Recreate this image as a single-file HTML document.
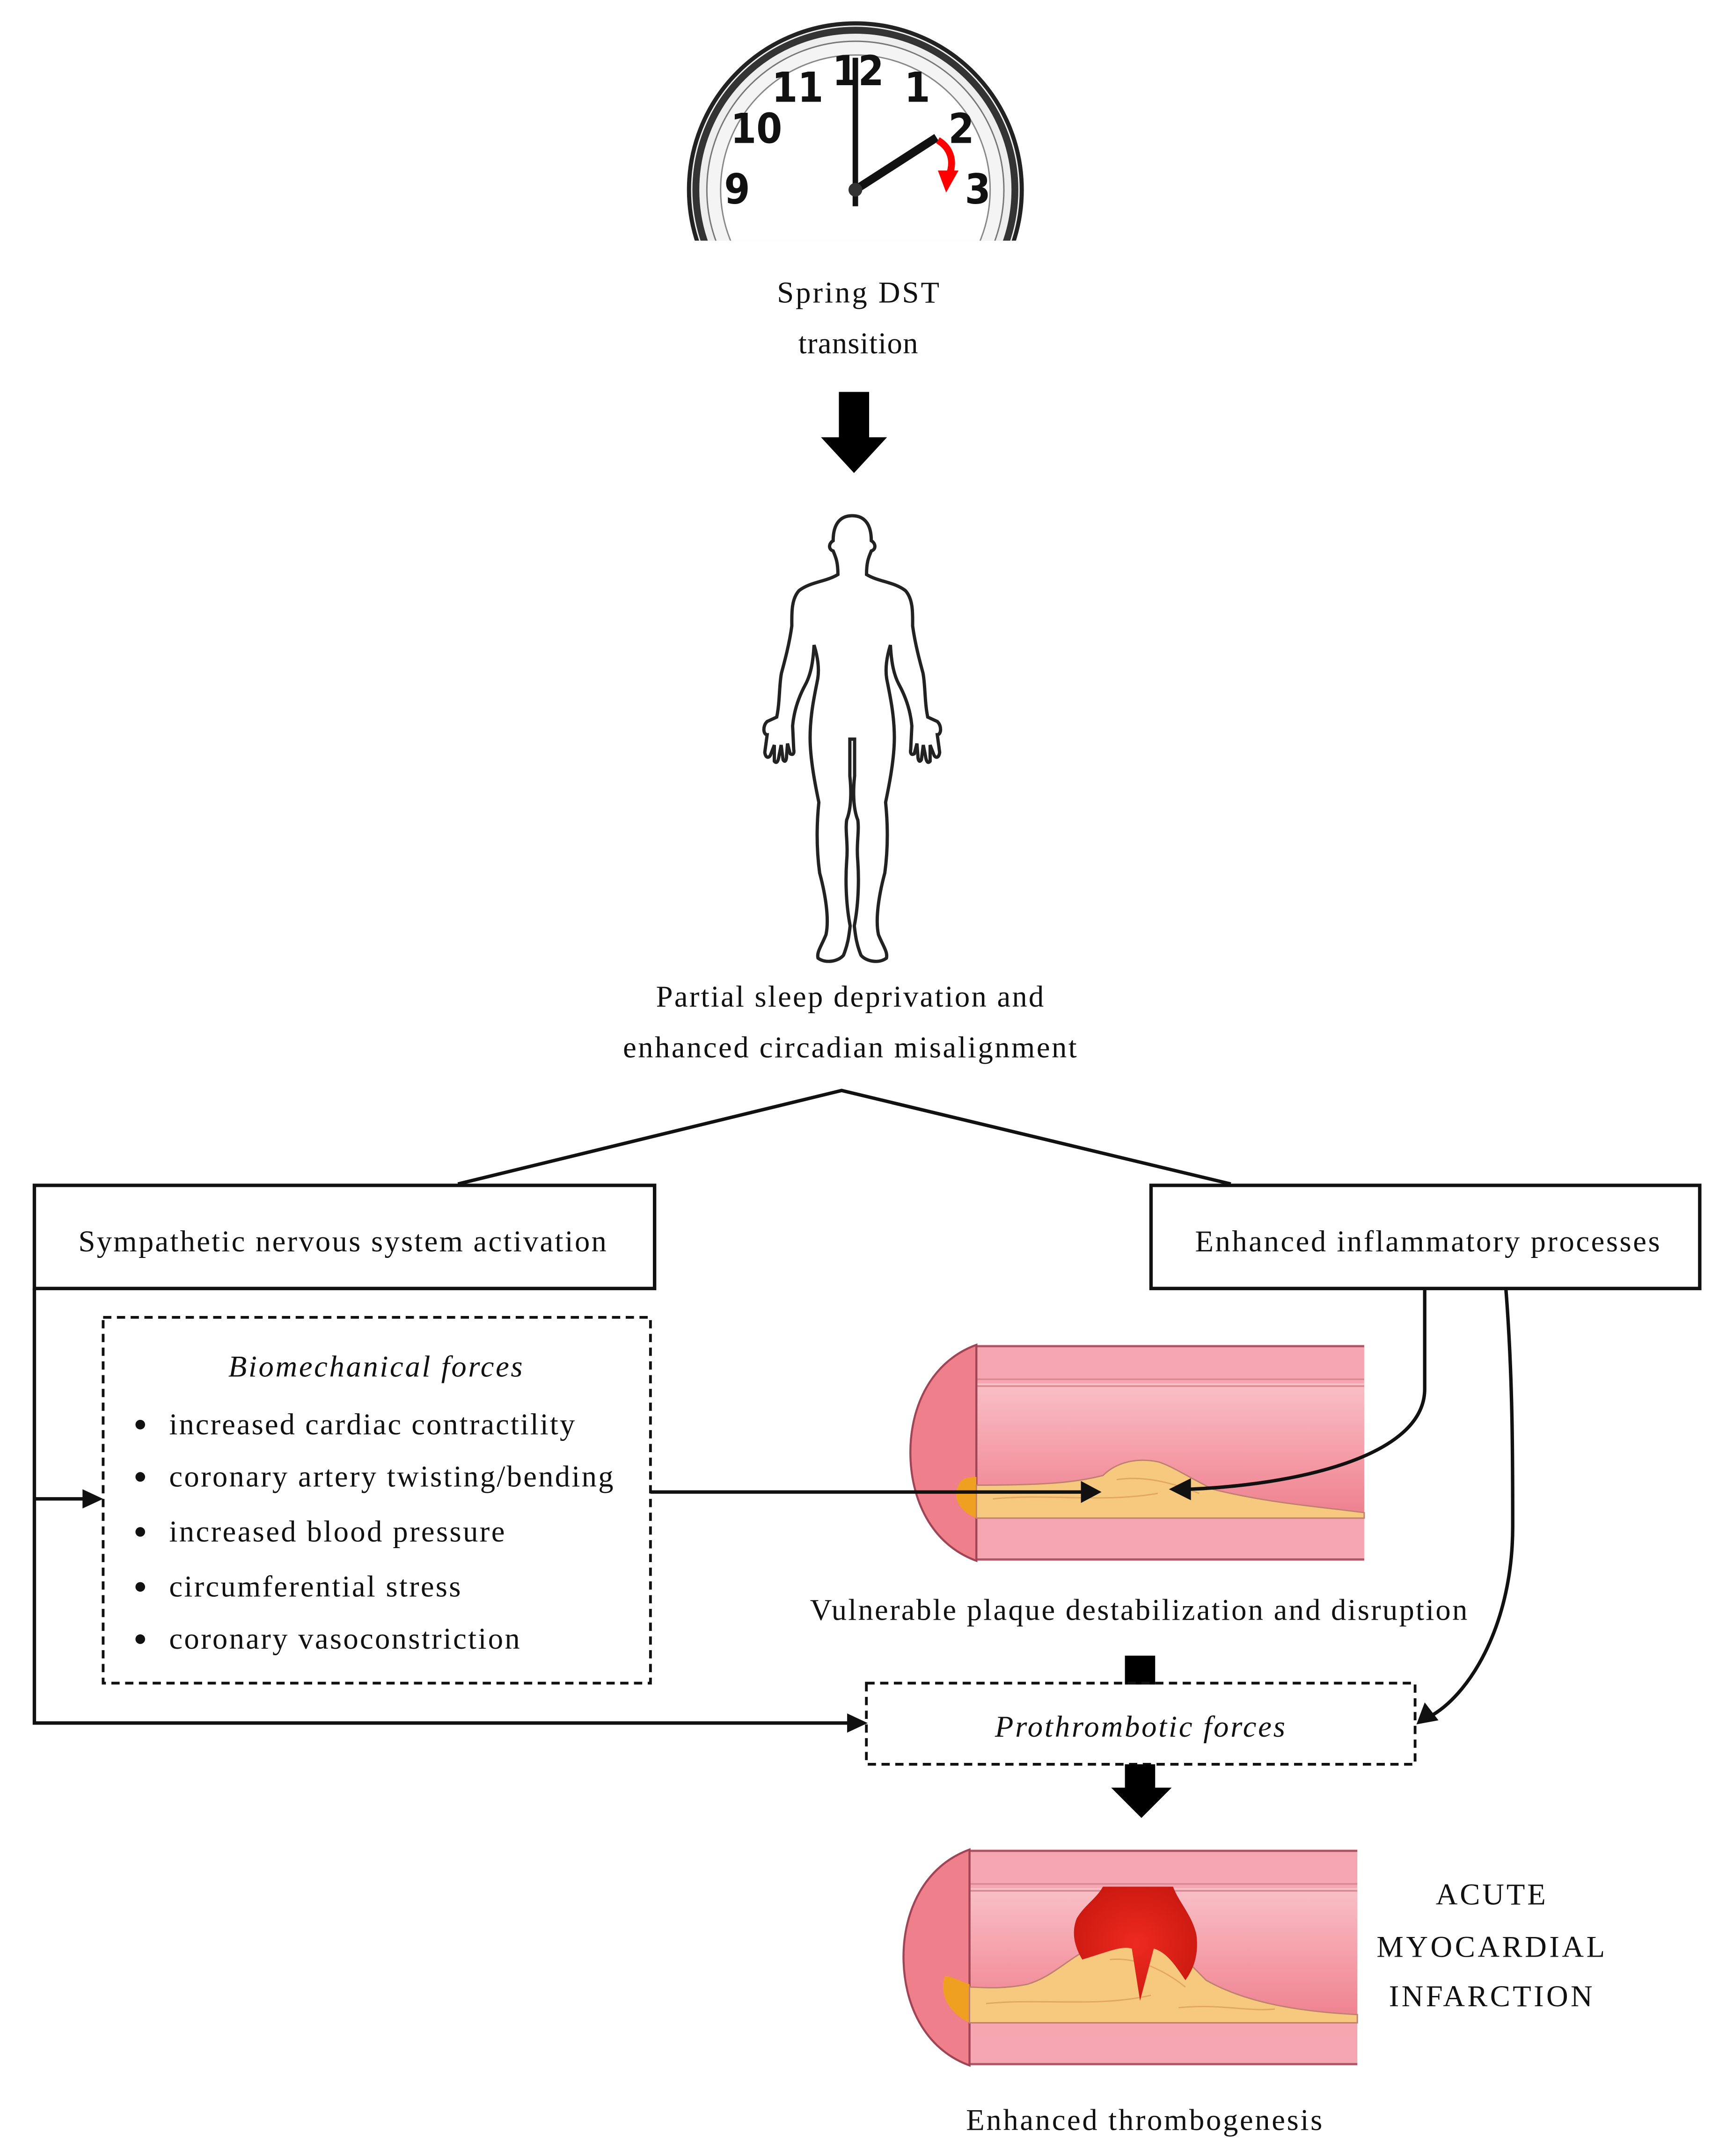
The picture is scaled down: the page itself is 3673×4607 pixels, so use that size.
<!DOCTYPE html>
<html><head><meta charset="utf-8"><style>
html,body{margin:0;padding:0;background:#fff;}
svg{display:block;}
text{font-family:"Liberation Serif",serif;fill:#111;}
</style></head><body>
<svg width="3673" height="4607" viewBox="0 0 3673 4607" xmlns="http://www.w3.org/2000/svg">
<defs>
<clipPath id="clk"><rect x="0" y="0" width="1250" height="175"/></clipPath>
<linearGradient id="lum" x1="0" y1="0" x2="0" y2="1">
<stop offset="0" stop-color="#f9c0c6"/><stop offset="0.6" stop-color="#f49aa5"/><stop offset="1" stop-color="#ee8290"/></linearGradient>
<radialGradient id="clot" cx="0.5" cy="0.5" r="0.6"><stop offset="0" stop-color="#ee2a20"/><stop offset="1" stop-color="#c8180f"/></radialGradient>
<g id="vessel">
<rect x="48" y="0" width="282" height="157" fill="#f6a6b0"/>
<path d="M48,28 L330,28 L330,122 L48,122 C32,112 26,98 26,78 C26,55 34,38 48,28 Z" fill="url(#lum)"/>
<line x1="48" y1="1" x2="330" y2="1" stroke="#a85565" stroke-width="1.5"/>
<line x1="48" y1="156" x2="330" y2="156" stroke="#a85565" stroke-width="1.5"/>
<line x1="48" y1="25" x2="330" y2="25" stroke="#d98892" stroke-width="1.2"/>
<line x1="48" y1="30" x2="330" y2="30" stroke="#d98892" stroke-width="1.2"/>
<path d="M48,0 C15,12 0,45 0,78 C0,112 15,145 48,157 Z" fill="#ef7f8b" stroke="#a04555" stroke-width="1.5"/>
</g>
</defs>
<g transform="scale(2.9384)">
<!-- clock -->
<g clip-path="url(#clk)">
<circle cx="622" cy="138" r="121" fill="#eee" stroke="#222" stroke-width="3"/>
<circle cx="622" cy="138" r="116" fill="none" stroke="#333" stroke-width="5"/>
<circle cx="622" cy="138" r="108" fill="#f4f4f4" stroke="#777" stroke-width="1"/>
<circle cx="622" cy="138" r="98" fill="#fff" stroke="#888" stroke-width="1"/>
<g font-size="30" text-anchor="middle">
<text x="624" y="62" style="font-family:'DejaVu Sans Condensed','Liberation Sans Narrow',sans-serif" font-weight="bold">12</text>
<text x="667" y="74" style="font-family:'DejaVu Sans Condensed','Liberation Sans Narrow',sans-serif" font-weight="bold">1</text>
<text x="699" y="104" style="font-family:'DejaVu Sans Condensed','Liberation Sans Narrow',sans-serif" font-weight="bold">2</text>
<text x="711" y="148" style="font-family:'DejaVu Sans Condensed','Liberation Sans Narrow',sans-serif" font-weight="bold">3</text>
<text x="580" y="74" style="font-family:'DejaVu Sans Condensed','Liberation Sans Narrow',sans-serif" font-weight="bold">11</text>
<text x="550" y="104" style="font-family:'DejaVu Sans Condensed','Liberation Sans Narrow',sans-serif" font-weight="bold">10</text>
<text x="536" y="148" style="font-family:'DejaVu Sans Condensed','Liberation Sans Narrow',sans-serif" font-weight="bold">9</text>
</g>
<line x1="622" y1="150" x2="622" y2="42" stroke="#111" stroke-width="4"/>
<line x1="622" y1="138" x2="681" y2="100" stroke="#111" stroke-width="6"/>
<circle cx="622" cy="138" r="5" fill="#333"/>
<path d="M682,102 C692,108 694,118 690,128" fill="none" stroke="#f00" stroke-width="5"/>
<polygon points="682,124 697,124 688,140" fill="#f00"/>
</g>
<text x="624" y="220" font-size="22" text-anchor="middle" textLength="118">Spring DST</text>
<text x="624" y="257" font-size="22" text-anchor="middle" textLength="87">transition</text>
<!-- big arrow -->
<rect x="610" y="285" width="22" height="34" fill="#000"/>
<polygon points="597,318 645,318 621,344" fill="#000"/>
<!-- human -->
<g transform="translate(535.9,365.4) scale(0.1156,0.2138)" fill="none" stroke="#222" stroke-width="7" vector-effect="non-scaling-stroke">
<path id="half" vector-effect="non-scaling-stroke" d="M725,45 C640,45 605,80 605,130 C575,140 575,160 605,165 C620,185 635,200 635,245 C560,270 460,270 390,300 C340,330 345,380 345,420 C330,480 300,540 280,580 C265,620 270,680 250,730 L190,745 C160,760 165,790 190,790 L175,850 C180,870 200,870 210,860 L235,825 L235,880 C250,890 260,880 265,860 L278,825 L290,875 C300,885 312,880 312,860 L318,820 L335,855 C350,860 362,855 357,840 L350,760 C360,700 400,650 430,620 C470,580 480,530 485,485 C505,520 520,560 508,600 C490,650 460,720 460,800 C460,880 500,980 515,1020 C500,1100 500,1180 520,1260 C560,1340 580,1420 560,1470 C530,1510 500,1530 510,1550 C560,1570 640,1560 670,1540 C700,1500 705,1470 712,1440 C690,1380 680,1300 690,1220 C700,1160 680,1120 690,1080 C720,1040 720,980 710,930 L710,805 L725,805"/>
<use href="#half" transform="translate(1450,0) scale(-1,1)"/>
</g>
<text x="618" y="732" font-size="22" text-anchor="middle" textLength="282">Partial sleep deprivation and</text>
<text x="618" y="769" font-size="22" text-anchor="middle" textLength="330">enhanced circadian misalignment</text>
<!-- split lines -->
<polyline points="333,861 612,793 895,861" fill="none" stroke="#111" stroke-width="2.5"/>
<!-- boxes -->
<rect x="25" y="862" width="451" height="75" fill="#fff" stroke="#111" stroke-width="2.5"/>
<text x="249" y="910" font-size="22" text-anchor="middle" textLength="384">Sympathetic nervous system activation</text>
<rect x="837" y="862" width="399" height="75" fill="#fff" stroke="#111" stroke-width="2.5"/>
<text x="1038" y="910" font-size="22" text-anchor="middle" textLength="338">Enhanced inflammatory processes</text>
<!-- biomech dashed -->
<rect x="75" y="958" width="398" height="266" fill="none" stroke="#111" stroke-width="2" stroke-dasharray="6,4"/>
<text x="273" y="1001" font-size="22" font-style="italic" text-anchor="middle" textLength="214">Biomechanical forces</text>
<g font-size="22">
<circle cx="102" cy="1036" r="3.5" fill="#111"/><text x="123" y="1043" textLength="295">increased cardiac contractility</text>
<circle cx="102" cy="1074" r="3.5" fill="#111"/><text x="123" y="1081" textLength="323">coronary artery twisting/bending</text>
<circle cx="102" cy="1114" r="3.5" fill="#111"/><text x="123" y="1121" textLength="244">increased blood pressure</text>
<circle cx="102" cy="1154" r="3.5" fill="#111"/><text x="123" y="1161" textLength="212">circumferential stress</text>
<circle cx="102" cy="1192" r="3.5" fill="#111"/><text x="123" y="1199" textLength="255">coronary vasoconstriction</text>
</g>
<!-- left connectors -->
<polyline points="25,937 25,1253 618,1253" fill="none" stroke="#111" stroke-width="2.5"/>
<polygon points="616,1246 631,1253 616,1260" fill="#111"/>
<line x1="25" y1="1090" x2="62" y2="1090" stroke="#111" stroke-width="2.5"/>
<polygon points="60,1083 75,1090 60,1097" fill="#111"/>
<!-- vessel 1 -->
<g transform="translate(662,978)">
<use href="#vessel"/>
<path d="M36,100 C30,110 34,120 48,126 L48,96 C42,96 38,97 36,100 Z" fill="#f0a020"/>
<path d="M48,126 L330,126 L330,122 C300,118 260,115 220,105 C200,95 190,88 180,85 C165,82 150,85 140,95 C120,100 100,102 48,102 Z" fill="#f7c97e" stroke="#c08070" stroke-width="1"/>
<path d="M60,112 C100,108 140,115 180,108 M150,98 C170,95 190,100 210,108" fill="none" stroke="#e0a860" stroke-width="1"/>
</g>
<!-- arrow to plaque -->
<line x1="473" y1="1085" x2="788" y2="1085" stroke="#111" stroke-width="2.5"/>
<polygon points="786,1077 801,1085 786,1093" fill="#111"/>
<!-- inflammatory curves -->
<path d="M1036,937 L1036,1010 C1036,1060 940,1080 864,1083" fill="none" stroke="#111" stroke-width="2.5"/>
<polygon points="866,1075 850,1083 866,1091" fill="#111"/>
<path d="M1095,937 C1100,1000 1100,1060 1100,1110 C1100,1180 1070,1230 1042,1247" fill="none" stroke="#111" stroke-width="2.5"/>
<polygon points="1036,1238 1030,1254 1046,1251" fill="#111"/>
<text x="828" y="1178" font-size="22" text-anchor="middle" textLength="478">Vulnerable plaque destabilization and disruption</text>
<!-- small block -->
<rect x="818" y="1204" width="22" height="21" fill="#000"/>
<rect x="630" y="1224" width="399" height="59" fill="none" stroke="#111" stroke-width="2" stroke-dasharray="6,4"/>
<text x="829" y="1263" font-size="22" font-style="italic" text-anchor="middle" textLength="211">Prothrombotic forces</text>
<rect x="818" y="1283" width="22" height="18" fill="#000"/>
<polygon points="808,1300 852,1300 830,1322" fill="#000"/>
<!-- vessel 2 -->
<g transform="translate(657,1345)">
<use href="#vessel"/>
<path d="M30,92 C26,105 32,118 48,126 L48,98 C40,95 34,92 30,92 Z" fill="#f0a020"/>
<path d="M48,126 L330,126 L330,120 C290,118 250,112 220,95 C205,80 195,68 180,62 C165,58 150,62 140,70 C120,78 110,92 90,98 C70,102 55,100 48,100 Z" fill="#f7c97e" stroke="#c08070" stroke-width="1"/>
<path d="M60,112 C100,108 140,115 180,106 M150,80 C170,78 190,88 205,100 M200,115 C230,112 250,118 270,116" fill="none" stroke="#e0a860" stroke-width="1"/>
<path d="M145,27 L196,27 C200,38 210,48 213,62 C215,78 210,88 205,95 C198,85 192,75 182,72 L172,110 L166,72 C158,70 150,74 130,80 C124,70 122,60 126,50 C132,40 140,36 145,27 Z" fill="url(#clot)"/>
</g>
<text x="1084" y="1385" font-size="22" text-anchor="middle" textLength="80">ACUTE</text>
<text x="1084" y="1423" font-size="22" text-anchor="middle" textLength="166">MYOCARDIAL</text>
<text x="1084" y="1459" font-size="22" text-anchor="middle" textLength="148">INFARCTION</text>
<text x="832" y="1549" font-size="22" text-anchor="middle" textLength="259">Enhanced thrombogenesis</text>
</g>
</svg>
</body></html>
